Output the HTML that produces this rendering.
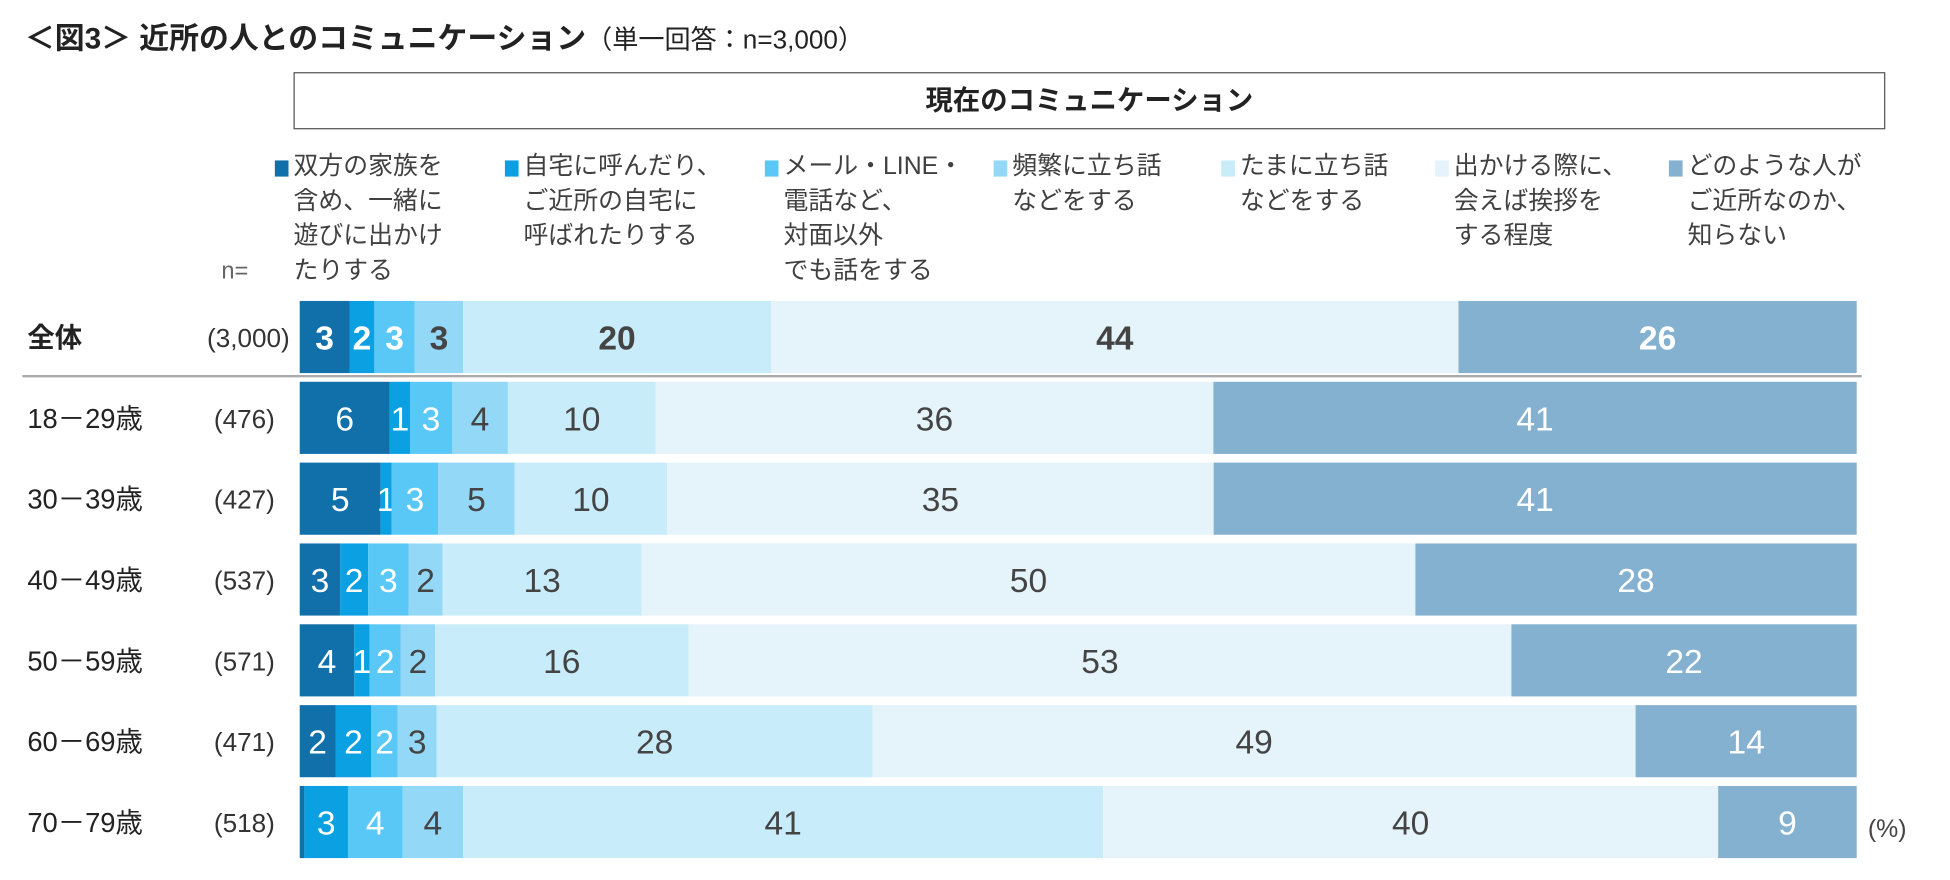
<!DOCTYPE html>
<html><head><meta charset="utf-8"><style>
body{margin:0;background:#fff;}
#wrap{position:absolute;left:0;top:0;width:1568px;height:708px;transform:scale(1.2436);transform-origin:0 0;font-family:"Liberation Sans","Noto Sans CJK JP",sans-serif;color:#333;}
.abs{position:absolute;white-space:nowrap;}
.leg{position:absolute;font-size:20px;line-height:28px;color:#404040;}
.sq{position:absolute;width:11px;height:13px;left:-15px;top:9px;}
</style></head><body>
<div id="wrap">
<div class="abs" style="left:20px;top:11px;font-size:24px;font-weight:bold;color:#222;">＜図3＞ 近所の人とのコミュニケーション<span style="font-weight:normal;font-size:21px;">（単一回答：n=3,000）</span></div>
<div class="abs" style="left:236px;top:58px;width:1278px;height:44px;border:1.5px solid #555;text-align:center;line-height:44px;font-size:22px;font-weight:bold;color:#222;">現在のコミュニケーション</div>
<div class="abs" style="left:178px;top:208px;font-size:19px;color:#666;">n=</div>
<div id="legend"></div>
<svg id="svg" width="1568" height="708" style="position:absolute;left:0;top:0"></svg>
<div class="abs" style="left:1502px;top:656px;font-size:20px;color:#444;">(%)</div>
</div>
<script>
const categories=["全体","18－29歳","30－39歳","40－49歳","50－59歳","60－69歳","70－79歳"];
const nLabels=["(3,000)","(476)","(427)","(537)","(571)","(471)","(518)"];
const s1=[3.2,5.8,5.2,2.6,3.5,2.3,0.3];
const s2=[1.6,1.3,0.7,1.8,1.0,2.3,2.8];
const s3=[2.6,2.7,3.0,2.6,2.0,1.7,3.5];
const s4=[3.1,3.6,4.9,2.2,2.2,2.5,3.9];
const s5=[19.8,9.5,9.8,12.8,16.3,28.0,41.1];
const s6=[44.2,35.9,35.1,49.8,52.9,49.0,39.5];
const s7=[25.6,41.4,41.3,28.4,22.2,14.2,8.9];
const seriesNames=["双方の家族を\n含め、一緒に\n遊びに出かけ\nたりする","自宅に呼んだり、\nご近所の自宅に\n呼ばれたりする","メール・LINE・\n電話など、\n対面以外\nでも話をする","頻繁に立ち話\nなどをする","たまに立ち話\nなどをする","出かける際に、\n会えば挨拶を\nする程度","どのような人が\nご近所なのか、\n知らない"];
const series=[s1,s2,s3,s4,s5,s6,s7];
const colors=["#1170a9","#0aa0e2","#5ac8f6","#94d8f8","#c9ecfb","#e5f3fb","#85b1d1"];
const txtCol=["#fff","#fff","#fff","#444","#444","#444","#fff"];
const legX=[236,421,630,814,997,1169,1357];
const X0=241,X1=1493;
const rowY=i=>i===0?242:307+(i-1)*65;
const H=58;
const ns="http://www.w3.org/2000/svg";
const svg=document.getElementById('svg');
const lg=document.getElementById('legend');
seriesNames.forEach((nm,k)=>{
 const d=document.createElement('div');d.className='leg';d.style.left=legX[k]+'px';d.style.top='120px';
 
 
 d.innerHTML='<span class="sq" style="background:'+colors[k]+'"></span>'+nm.replace(/\n/g,'<br>');
 lg.appendChild(d);
});
const sep=document.createElementNS(ns,'line');
sep.setAttribute('x1',18);sep.setAttribute('x2',1497);sep.setAttribute('y1',302.5);sep.setAttribute('y2',302.5);
sep.setAttribute('stroke','#aaa');sep.setAttribute('stroke-width',2);


svg.appendChild(sep);
categories.forEach((c,i)=>{
 const y=rowY(i);
 const vals=series.map(s=>s[i]);const sum=vals.reduce((a,b)=>a+b,0);
 let acc=0;
 vals.forEach((v,k)=>{
  const xa=X0+(X1-X0)*acc/sum;acc+=v;const xb=X0+(X1-X0)*acc/sum;
  const r=document.createElementNS(ns,'rect');
  r.setAttribute('x',xa);r.setAttribute('y',y);r.setAttribute('width',Math.max(0,xb-xa));r.setAttribute('height',H);r.setAttribute('fill',colors[k]);
  
  
  svg.appendChild(r);
  if(v>=0.5){
   const t=document.createElementNS(ns,'text');
   t.setAttribute('x',(xa+xb)/2);t.setAttribute('y',y+H/2+10);t.setAttribute('text-anchor','middle');
   t.setAttribute('font-size',27);t.setAttribute('fill',txtCol[k]);
   if(i===0)t.setAttribute('font-weight','bold');
   t.setAttribute('font-family','"Liberation Sans",sans-serif');
   t.textContent=String(Math.round(v));
   
   
   svg.appendChild(t);
  }
 });
 const lab=document.createElementNS(ns,'text');
 lab.setAttribute('x',22);lab.setAttribute('y',y+H/2+8);lab.setAttribute('font-size',22);lab.setAttribute('fill','#222');
 lab.setAttribute('font-family','"Liberation Sans","Noto Sans CJK JP",sans-serif');
 if(i===0)lab.setAttribute('font-weight','bold');
 lab.textContent=c;
 
 
 svg.appendChild(lab);
 const nl=document.createElementNS(ns,'text');
 nl.setAttribute('x',i===0?233:221);nl.setAttribute('y',y+H/2+8);nl.setAttribute('font-size',21);nl.setAttribute('fill','#333');nl.setAttribute('text-anchor','end');
 nl.setAttribute('font-family','"Liberation Sans",sans-serif');
 nl.textContent=nLabels[i];
 
 
 svg.appendChild(nl);
});
</script>
</body></html>
